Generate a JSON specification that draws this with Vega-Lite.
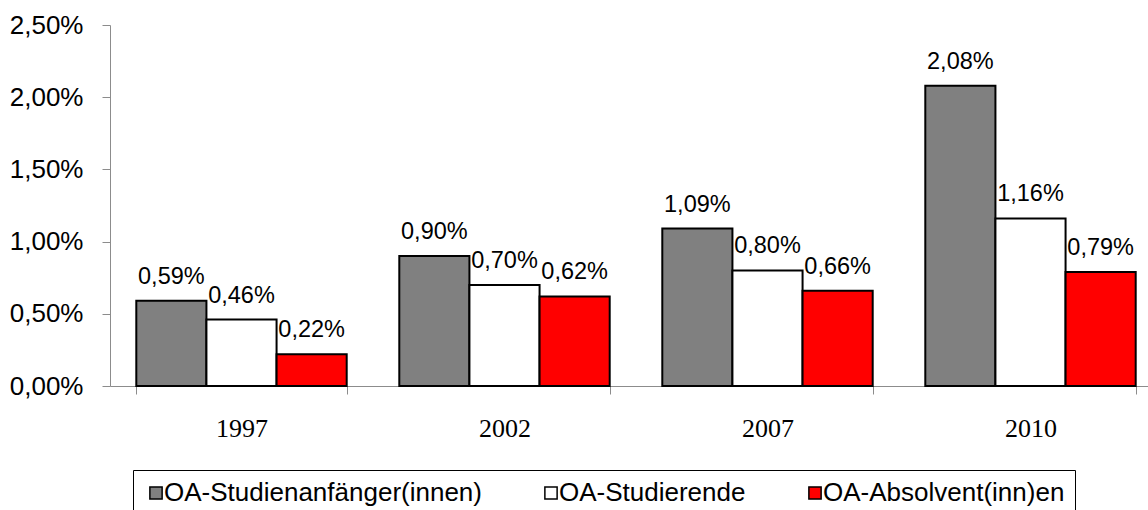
{
  "$schema": "https://vega.github.io/schema/vega-lite/v6.json",
  "autosize": {"type": "none"},
  "padding": {"left": 110, "top": 25, "right": 0, "bottom": 124},
  "width": 1052,
  "height": 361,
  "background": "white",
  "config": {
    "font": "Liberation Sans",
    "view": {"stroke": null},
    "locale": {
      "number": {"decimal": ",", "thousands": ".", "grouping": [3], "currency": ["", " €"]}
    }
  },
  "data": {
    "values": [
      {"jahr": "1997", "gruppe": "OA-Studienanfänger(innen)", "anteil": 0.0059},
      {"jahr": "1997", "gruppe": "OA-Studierende", "anteil": 0.0046},
      {"jahr": "1997", "gruppe": "OA-Absolvent(inn)en", "anteil": 0.0022},
      {"jahr": "2002", "gruppe": "OA-Studienanfänger(innen)", "anteil": 0.0090},
      {"jahr": "2002", "gruppe": "OA-Studierende", "anteil": 0.0070},
      {"jahr": "2002", "gruppe": "OA-Absolvent(inn)en", "anteil": 0.0062},
      {"jahr": "2007", "gruppe": "OA-Studienanfänger(innen)", "anteil": 0.0109},
      {"jahr": "2007", "gruppe": "OA-Studierende", "anteil": 0.0080},
      {"jahr": "2007", "gruppe": "OA-Absolvent(inn)en", "anteil": 0.0066},
      {"jahr": "2010", "gruppe": "OA-Studienanfänger(innen)", "anteil": 0.0208},
      {"jahr": "2010", "gruppe": "OA-Studierende", "anteil": 0.0116},
      {"jahr": "2010", "gruppe": "OA-Absolvent(inn)en", "anteil": 0.0079}
    ]
  },
  "encoding": {
    "x": {
      "field": "jahr",
      "type": "nominal",
      "scale": {"paddingInner": 0.2, "paddingOuter": 0.1},
      "axis": {
        "title": null,
        "labelAngle": 0,
        "labelFont": "Liberation Serif",
        "labelFontSize": 26,
        "labelColor": "#000000",
        "labelPadding": 21,
        "tickBand": "extent",
        "tickSize": 8,
        "tickColor": "#8c8c8c",
        "domainColor": "#8c8c8c",
        "grid": false
      }
    },
    "xOffset": {
      "field": "gruppe",
      "type": "nominal",
      "sort": ["OA-Studienanfänger(innen)", "OA-Studierende", "OA-Absolvent(inn)en"],
      "scale": {"paddingInner": 0, "paddingOuter": 0}
    },
    "y": {
      "field": "anteil",
      "type": "quantitative",
      "scale": {"domain": [0, 0.025], "nice": false},
      "axis": {
        "title": null,
        "values": [0, 0.005, 0.01, 0.015, 0.02, 0.025],
        "format": ".2%",
        "labelFontSize": 26,
        "labelColor": "#000000",
        "labelPadding": 19,
        "tickSize": 8,
        "tickColor": "#8c8c8c",
        "domainColor": "#8c8c8c",
        "grid": false
      }
    }
  },
  "layer": [
    {
      "mark": {"type": "bar", "stroke": "#000000", "strokeWidth": 2},
      "encoding": {
        "color": {
          "field": "gruppe",
          "type": "nominal",
          "sort": ["OA-Studienanfänger(innen)", "OA-Studierende", "OA-Absolvent(inn)en"],
          "scale": {
            "domain": ["OA-Studienanfänger(innen)", "OA-Studierende", "OA-Absolvent(inn)en"],
            "range": ["#808080", "#ffffff", "#ff0000"]
          },
          "legend": {
            "title": null,
            "orient": "none",
            "direction": "horizontal",
            "columns": 3,
            "legendX": 23,
            "legendY": 445,
            "padding": 10,
            "strokeColor": "#000000",
            "columnPadding": 56,
            "symbolType": "square",
            "symbolSize": 150,
            "symbolStrokeColor": "#000000",
            "symbolStrokeWidth": 1.5,
            "symbolOpacity": 1,
            "labelFontSize": 26,
            "labelColor": "#000000",
            "labelOffset": -5,
            "labelLimit": 0
          }
        }
      }
    },
    {
      "mark": {"type": "text", "baseline": "alphabetic", "align": "center", "dy": -17, "fontSize": 23.5, "color": "#000000"},
      "encoding": {
        "text": {"field": "anteil", "type": "quantitative", "format": ".2%"}
      }
    }
  ]
}
